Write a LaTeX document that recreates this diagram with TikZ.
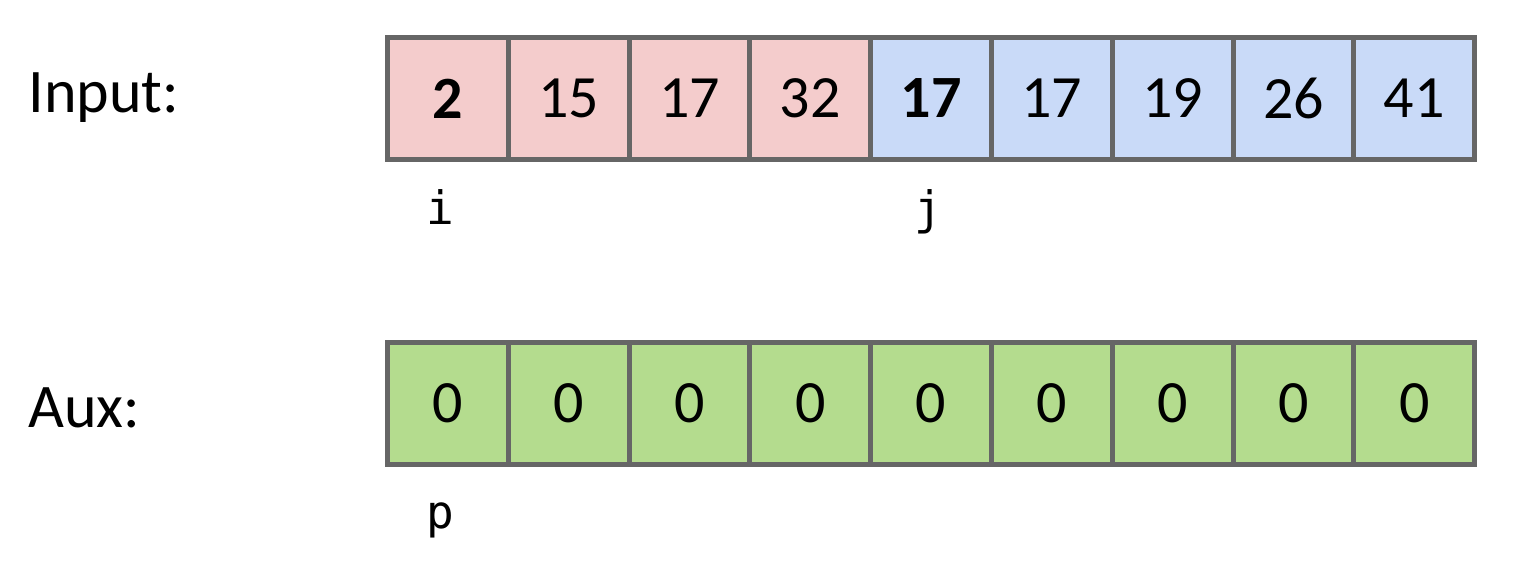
\documentclass[tikz,border=0pt]{standalone}
\usepackage{fontspec}
\setmainfont{Carlito}
\newfontfamily\idxfont{DejaVu Sans Mono}
\usetikzlibrary{positioning}

\definecolor{cellgray}{HTML}{666666}
\definecolor{lefthalf}{HTML}{F4CCCC}
\definecolor{righthalf}{HTML}{C9DAF8}
\definecolor{auxgreen}{HTML}{B4DC8E}

\tikzset{
  cell/.style={draw=cellgray,line width=5pt,minimum width=120.8pt,
    minimum height=122pt,inner sep=0pt,font=\fontsize{60}{64}\selectfont},
  lcell/.style={cell,fill=lefthalf},
  rcell/.style={cell,fill=righthalf},
  acell/.style={cell,fill=auxgreen},
  rowname/.style={anchor=west,font=\fontsize{62}{66}\selectfont},
  idx/.style={anchor=base,font=\idxfont\fontsize{46}{50}\selectfont}
}

\begin{document}
\begin{tikzpicture}[x=1pt,y=-1pt,node distance=120.8pt]
  \useasboundingbox (0,0) rectangle (1538,563);

  \node[rowname] (input) at (25,98) {Input:};
  \node[rowname] (aux) at (25,408) {Aux:};

  \node[lcell] (a0) at (447.9,98.5) {\textbf{2}};
  \node[lcell,right of=a0] (a1) {15};
  \node[lcell,right of=a1] (a2) {17};
  \node[lcell,right of=a2] (a3) {32};
  \node[rcell,right of=a3] (a4) {\textbf{17}};
  \node[rcell,right of=a4] (a5) {17};
  \node[rcell,right of=a5] (a6) {19};
  \node[rcell,right of=a6] (a7) {26};
  \node[rcell,right of=a7] (a8) {41};

  \node[acell] (b0) at (447.9,403) {0};
  \node[acell,right of=b0] (b1) {0};
  \node[acell,right of=b1] (b2) {0};
  \node[acell,right of=b2] (b3) {0};
  \node[acell,right of=b3] (b4) {0};
  \node[acell,right of=b4] (b5) {0};
  \node[acell,right of=b5] (b6) {0};
  \node[acell,right of=b6] (b7) {0};
  \node[acell,right of=b7] (b8) {0};

  \node[idx] (i) at (440,224) {i};
  \node[idx] (j) at (928,224) {j};
  \node[idx] (p) at (440,528) {p};

\end{tikzpicture}
\end{document}
